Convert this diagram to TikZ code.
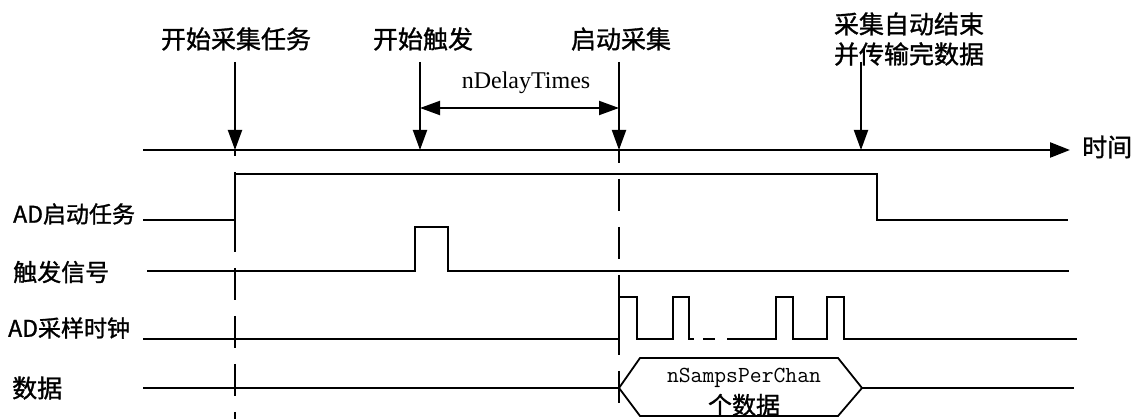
\documentclass[tikz,border=0pt]{standalone}
\usepackage{fontspec}
\setmainfont{Liberation Serif}
\newfontfamily\cjk[FakeBold=1.2]{Noto Sans CJK SC}
\usetikzlibrary{arrows.meta}
\tikzset{
  sig/.style={line width=1.8pt},
  axis/.style={line width=2.4pt,-{Triangle[length=20pt,width=15pt]}},
  evt/.style={line width=2pt,-{Triangle[length=20pt,width=14pt]}},
  dly/.style={line width=2pt,{Triangle[length=20pt,width=14pt]}-{Triangle[length=20pt,width=14pt]}},
  sync/.style={line width=2.2pt,dash pattern=on 32pt off 16pt},
  toplab/.style={font=\cjk\fontsize{25pt}{30pt}\selectfont,inner sep=0pt},
  sidelab/.style={font=\cjk\fontsize{24pt}{28pt}\selectfont,inner sep=0pt,anchor=west},
}
\begin{document}
\begin{tikzpicture}[x=1pt,y=-1pt]
\useasboundingbox (0,0) rectangle (1144,419);

\coordinate (axL) at (143,150);
\coordinate (axR) at (1070,150);
\coordinate (tTask) at (235,150);
\coordinate (tTrig) at (420,150);
\coordinate (tStart) at (619,150);
\coordinate (tEnd) at (861,150);
\coordinate (aTask) at (235,62);
\coordinate (aTrig) at (420,62);
\coordinate (aStart) at (619,62);
\coordinate (aEnd) at (861,62);
\coordinate (dL) at (420,108);
\coordinate (dR) at (619,108);

\node[toplab] (lbTask) at (236,39) {开始采集任务};
\node[toplab] (lbTrig) at (423,39) {开始触发};
\node[toplab] (lbStart) at (621,39) {启动采集};
\node[toplab] (lbEnd) at (909,24) {采集自动结束};
\node[toplab] (lbEndB) at (909,54) {并传输完数据};
\node[toplab,anchor=west] (lbTime) at (1082,147) {时间};
\node[anchor=base,inner sep=0pt,font=\fontsize{24pt}{28pt}\selectfont] (lbDelay) at (526,89) {nDelayTimes};

\draw[axis] (axL) -- (axR);
\draw[evt] (aTask) -- (tTask);
\draw[evt] (aTrig) -- (tTrig);
\draw[evt] (aStart) -- (tStart);
\draw[evt] (aEnd) -- (tEnd);
\draw[dly] (dL) -- (dR);

\node[sidelab,font=\cjk\fontsize{23pt}{28pt}\selectfont] (sgTask) at (13,214) {AD启动任务};
\node[sidelab] (sgTrig) at (13,272) {触发信号};
\node[sidelab,font=\cjk\fontsize{23pt}{28pt}\selectfont] (sgClk) at (8,328) {AD采样时钟};
\node[sidelab,font=\cjk\fontsize{25pt}{28pt}\selectfont] (sgData) at (12,388) {数据};

\draw[sig] (143,220) -- (235,220) -- (235,174) -- (877,174) -- (877,220) -- (1068,220);
\draw[sig] (147,271) -- (415,271) -- (415,227) -- (448,227) -- (448,271) -- (1069,271);
\draw[sig] (143,339) -- (619,339) -- (619,297) -- (637,297) -- (637,339) -- (673,339)
  -- (673,297) -- (689,297) -- (689,339) -- (694,339);
\draw[sig] (703,339) -- (715,339);
\draw[sig] (727,339) -- (776,339) -- (776,297) -- (793,297) -- (793,339) -- (827,339)
  -- (827,297) -- (844,297) -- (844,339) -- (1077,339);

\draw[sig] (143,388) -- (619,388);
\draw[sig] (619,388) -- (640,358) -- (838,358) -- (862,388) -- (838,416) -- (640,416) -- cycle;
\draw[sig] (862,388) -- (1074,388);
\node[inner sep=0pt,font=\ttfamily\addfontfeature{FakeBold=0.8}\fontsize{23pt}{27pt}\selectfont] (dtNum) at (744,378) {nSampsPerChan};
\node[inner sep=0pt,font=\cjk\fontsize{24pt}{28pt}\selectfont] (dtUnit) at (744,405) {个数据};

\draw[sync,dash phase=26pt] (tTask) -- (235,419);
\draw[sync,dash phase=19pt] (tStart) -- (619,419);
\end{tikzpicture}
\end{document}
